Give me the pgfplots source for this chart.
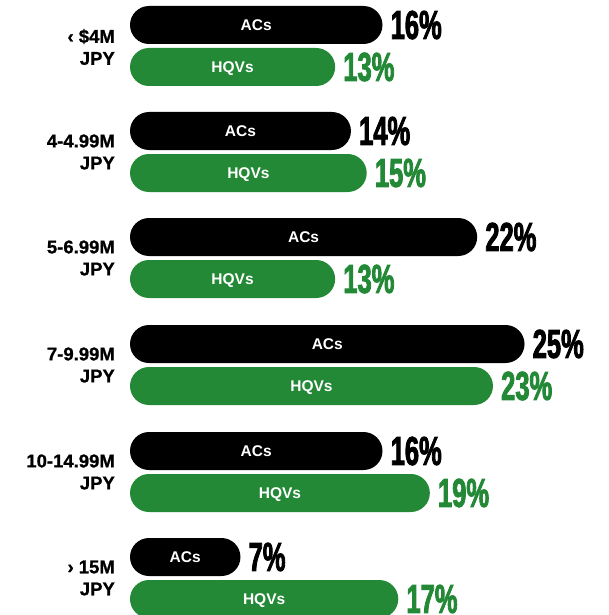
\documentclass[border=0pt]{standalone}
\usepackage{fontspec}
\setmainfont{Liberation Sans}
\newfontfamily\pct{Liberation Sans}[FakeStretch=0.63,FakeBold=2]
\newfontfamily\catf{Liberation Sans}[FakeBold=1]
\usepackage{pgfplots}
\pgfplotsset{compat=1.18}
\definecolor{hqv}{RGB}{35,137,54}
\begin{document}
\begin{tikzpicture}
\begin{axis}[
  scale only axis, width=608pt, height=615pt,
  xmin=-8.238, xmax=30.29, ymin=0, ymax=615, y dir=reverse,
  hide axis, clip=true,
  bar width=38pt,
  /pgf/number format/assume math mode=true,
]
% ACs bars
\addplot[xbar, fill=black, draw=none, rounded corners=19pt, bar shift=0pt,
  point meta=x,
  nodes near coords={\pgfmathprintnumber[assume math mode=true]{\pgfplotspointmeta}\%},
  every node near coord/.style={anchor=west, inner sep=0pt, xshift=8pt, text=black,
    font=\pct\bfseries\fontsize{40.5}{40.5}\selectfont}]
  coordinates {(16,25) (14,131) (22,237) (25,344) (16,451) (7,557)};
% HQVs bars
\addplot[xbar, fill=hqv, draw=none, rounded corners=19pt, bar shift=0pt,
  point meta=x,
  nodes near coords={\pgfmathprintnumber[assume math mode=true]{\pgfplotspointmeta}\%},
  every node near coord/.style={anchor=west, inner sep=0pt, xshift=8pt, text=hqv,
    font=\pct\bfseries\fontsize{40.5}{40.5}\selectfont}]
  coordinates {(13,67) (15,173) (13,279) (23,386) (19,493) (17,599)};
% inner labels
\addplot[draw=none, mark=none, nodes near coords={ACs},
  every node near coord/.style={anchor=base, yshift=-5.6pt, inner sep=0pt, text=white,
    font=\bfseries\fontsize{15.5}{15.5}\selectfont}]
  coordinates {(8,25) (7,131) (11,237) (12.5,344) (8,451) (3.5,557)};
\addplot[draw=none, mark=none, nodes near coords={HQVs},
  every node near coord/.style={anchor=base, yshift=-5.6pt, inner sep=0pt, text=white,
    font=\bfseries\fontsize{15.5}{15.5}\selectfont}]
  coordinates {(6.5,67) (7.5,173) (6.5,279) (11.5,386) (9.5,493) (8.5,599)};
% category labels
\begin{scope}[every node/.style={anchor=east, align=right, inner sep=0pt,
    font=\catf\bfseries\fontsize{18.5}{22}\selectfont}]
\node at (axis cs:-0.95,47) {‹ \$4M\\JPY};
\node at (axis cs:-0.95,152) {4-4.99M\\JPY};
\node at (axis cs:-0.95,258) {5-6.99M\\JPY};
\node at (axis cs:-0.95,365) {7-9.99M\\JPY};
\node at (axis cs:-0.95,472) {10-14.99M\\JPY};
\node at (axis cs:-0.95,578) {› 15M\\JPY};
\end{scope}
\end{axis}
\pgfresetboundingbox
\path[use as bounding box] (current axis.south west) rectangle (current axis.north east);
\end{tikzpicture}
\end{document}
